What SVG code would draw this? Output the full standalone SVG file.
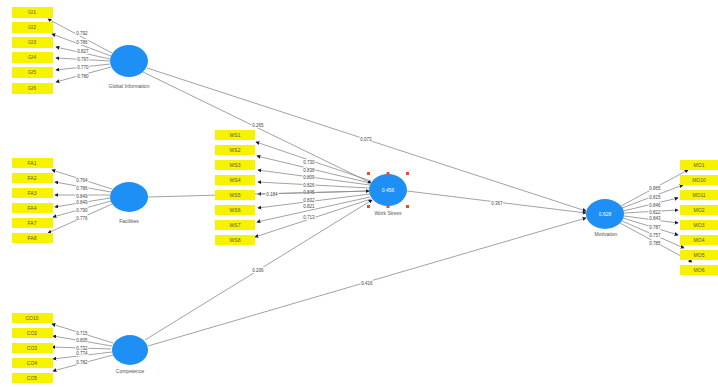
<svg xmlns="http://www.w3.org/2000/svg" width="718" height="387" viewBox="0 0 718 387">
<style>
.bg{fill:#ffffff}
.ind rect{fill:#f7f200}
.ind text{font-family:"Liberation Sans",Arial,sans-serif;font-size:5px;fill:#555;text-anchor:middle}
.lat ellipse{fill:#1e8ff5}
.lat .in{font-family:"Liberation Sans",Arial,sans-serif;font-size:5px;fill:#ffffff;text-anchor:middle}
.lat .nm{font-family:"Liberation Sans",Arial,sans-serif;font-size:5px;fill:#555;text-anchor:middle}
.edges line{stroke:#8a8a8a;stroke-width:0.8;marker-end:url(#ah)}
.edges text{font-family:"Liberation Sans",Arial,sans-serif;font-size:4.5px;fill:#444;text-anchor:middle;stroke:#fff;stroke-width:2px;paint-order:stroke}
.h{fill:#e0502a}
</style>
<defs>
<marker id="ah" viewBox="0 0 6 6" refX="5" refY="3" markerWidth="4" markerHeight="4" markerUnits="userSpaceOnUse" orient="auto">
<path d="M0,0 L6,3 L0,6 z" fill="#1a1a3a"/>
</marker>
</defs>
<rect class="bg" width="718" height="387"/>

<g class="edges" id="connectors">
<!-- top latent indicators -->
<line x1="112" y1="53" x2="48" y2="19"/>
<line x1="111" y1="56" x2="52" y2="34"/>
<line x1="110" y1="59" x2="56" y2="47"/>
<line x1="110" y1="61" x2="56" y2="58"/>
<line x1="110" y1="64" x2="56" y2="70"/>
<line x1="111" y1="67" x2="56" y2="82"/>
<text x="82" y="35">0.792</text>
<text x="82" y="44">0.786</text>
<text x="83" y="53">0.827</text>
<text x="83" y="61">0.797</text>
<text x="83" y="69">0.770</text>
<text x="83" y="78">0.780</text>
<!-- middle latent indicators -->
<line x1="112" y1="189" x2="52" y2="170"/>
<line x1="111" y1="192" x2="55" y2="182"/>
<line x1="110" y1="195" x2="55" y2="195"/>
<line x1="110" y1="198" x2="55" y2="207"/>
<line x1="111" y1="201" x2="53" y2="217"/>
<line x1="112" y1="204" x2="48" y2="233"/>
<text x="82" y="182">0.764</text>
<text x="82" y="190">0.786</text>
<text x="82" y="198">0.849</text>
<text x="82" y="204">0.849</text>
<text x="82" y="212">0.790</text>
<text x="82" y="220">0.776</text>
<!-- bottom latent indicators -->
<line x1="113" y1="343" x2="52" y2="324"/>
<line x1="112" y1="346" x2="53" y2="336"/>
<line x1="111" y1="349" x2="52" y2="347"/>
<line x1="112" y1="352" x2="53" y2="359"/>
<line x1="113" y1="355" x2="53" y2="371"/>
<text x="82" y="335">0.715</text>
<text x="82" y="342">0.805</text>
<text x="82" y="350">0.732</text>
<text x="82" y="355">0.774</text>
<text x="82" y="364">0.782</text>
<!-- center latent indicators -->
<line x1="371" y1="181" x2="256" y2="142"/>
<line x1="370" y1="183" x2="257" y2="156"/>
<line x1="370" y1="185" x2="258" y2="170"/>
<line x1="369" y1="188" x2="258" y2="182"/>
<line x1="369" y1="191" x2="258" y2="194"/>
<line x1="370" y1="194" x2="258" y2="208"/>
<line x1="370" y1="197" x2="257" y2="222"/>
<line x1="371" y1="199" x2="255" y2="237"/>
<text x="309" y="164">0.730</text>
<text x="309" y="172">0.838</text>
<text x="309" y="179">0.809</text>
<text x="309" y="187">0.826</text>
<text x="309" y="194">0.845</text>
<text x="309" y="202">0.832</text>
<text x="309" y="208">0.821</text>
<text x="309" y="219">0.713</text>
<!-- right latent indicators -->
<line x1="621" y1="206" x2="688" y2="170"/>
<line x1="622" y1="208" x2="683" y2="185"/>
<line x1="623" y1="211" x2="678" y2="198"/>
<line x1="624" y1="213" x2="678" y2="210"/>
<line x1="624" y1="216" x2="678" y2="223"/>
<line x1="623" y1="218" x2="678" y2="235"/>
<line x1="622" y1="221" x2="684" y2="248"/>
<line x1="620" y1="223" x2="692" y2="262"/>
<text x="655" y="190">0.865</text>
<text x="655" y="199">0.815</text>
<text x="655" y="207">0.846</text>
<text x="655" y="214">0.822</text>
<text x="655" y="220">0.843</text>
<text x="655" y="229">0.787</text>
<text x="655" y="237">0.757</text>
<text x="655" y="245">0.785</text>
<!-- structural paths -->
<line x1="147" y1="68" x2="586" y2="211"/>
<line x1="143" y1="72" x2="371" y2="183"/>
<line x1="148" y1="197" x2="369" y2="191"/>
<line x1="145" y1="340" x2="372" y2="200"/>
<line x1="148" y1="346" x2="586" y2="218"/>
<line x1="407" y1="191" x2="586" y2="213"/>
<text x="366" y="141">0.073</text>
<text x="258" y="127">0.265</text>
<text x="272" y="196">0.184</text>
<text x="258" y="272">0.206</text>
<text x="367" y="285">0.416</text>
<text x="497" y="205">0.367</text>
</g>

<g class="ind" id="gi-indicators">
<rect x="12" y="7" width="41" height="11"/><text x="32" y="14">GI1</text>
<rect x="12" y="22" width="41" height="11"/><text x="32" y="29">GI2</text>
<rect x="12" y="37" width="41" height="11"/><text x="32" y="44">GI3</text>
<rect x="12" y="52" width="41" height="11"/><text x="32" y="59">GI4</text>
<rect x="12" y="67" width="41" height="11"/><text x="32" y="74">GI5</text>
<rect x="12" y="83" width="41" height="11"/><text x="32" y="90">GI6</text>
</g>
<g class="ind" id="fa-indicators">
<rect x="12" y="158" width="41" height="10"/><text x="32" y="165">FA1</text>
<rect x="12" y="173" width="41" height="10"/><text x="32" y="180">FA2</text>
<rect x="12" y="188" width="41" height="10"/><text x="32" y="195">FA3</text>
<rect x="12" y="203" width="41" height="10"/><text x="32" y="210">FA4</text>
<rect x="12" y="218" width="41" height="10"/><text x="32" y="225">FA7</text>
<rect x="12" y="233" width="41" height="10"/><text x="32" y="240">FA8</text>
</g>
<g class="ind" id="co-indicators">
<rect x="12" y="313" width="41" height="10"/><text x="32" y="320">CO10</text>
<rect x="12" y="328" width="41" height="10"/><text x="32" y="335">CO2</text>
<rect x="12" y="343" width="41" height="10"/><text x="32" y="350">CO3</text>
<rect x="12" y="358" width="41" height="10"/><text x="32" y="365">CO4</text>
<rect x="12" y="373" width="41" height="10"/><text x="32" y="380">CO5</text>
</g>
<g class="ind" id="ws-indicators">
<rect x="215" y="130" width="40" height="10"/><text x="235" y="137">WS1</text>
<rect x="215" y="145" width="40" height="10"/><text x="235" y="152">WS2</text>
<rect x="215" y="160" width="40" height="10"/><text x="235" y="167">WS3</text>
<rect x="215" y="175" width="40" height="10"/><text x="235" y="182">WS4</text>
<rect x="215" y="190" width="40" height="10"/><text x="235" y="197">WS5</text>
<rect x="215" y="205" width="40" height="10"/><text x="235" y="212">WS6</text>
<rect x="215" y="220" width="40" height="10"/><text x="235" y="227">WS7</text>
<rect x="215" y="235" width="40" height="10"/><text x="235" y="242">WS8</text>
</g>
<g class="ind" id="mo-indicators">
<rect x="680" y="160" width="38" height="10"/><text x="699" y="167">MO1</text>
<rect x="680" y="175" width="38" height="10"/><text x="699" y="182">MO10</text>
<rect x="680" y="190" width="38" height="10"/><text x="699" y="197">MO11</text>
<rect x="680" y="205" width="38" height="10"/><text x="699" y="212">MO2</text>
<rect x="680" y="220" width="38" height="10"/><text x="699" y="227">MO3</text>
<rect x="680" y="235" width="38" height="10"/><text x="699" y="242">MO4</text>
<rect x="680" y="250" width="38" height="10"/><text x="699" y="257">MO5</text>
<rect x="680" y="265" width="38" height="10"/><text x="699" y="272">MO6</text>
</g>

<g class="lat" id="global-information">
<ellipse cx="129" cy="61" rx="19" ry="16"/>
<text class="nm" x="129" y="88">Global Information</text>
</g>
<g class="lat" id="facilities">
<ellipse cx="129" cy="197" rx="19" ry="15"/>
<text class="nm" x="129" y="223">Facilities</text>
</g>
<g class="lat" id="competence">
<ellipse cx="130" cy="350" rx="18" ry="15"/>
<text class="nm" x="130" y="373">Competence</text>
</g>
<g class="lat" id="work-stress">
<ellipse cx="388" cy="190" rx="19" ry="16"/>
<text class="in" x="388" y="192">0.456</text>
<text class="nm" x="388" y="215">Work Stress</text>
<rect class="h" x="367" y="172" width="3" height="3"/>
<rect class="h" x="406" y="172" width="3" height="3"/>
<rect class="h" x="367" y="205" width="3" height="3"/>
<rect class="h" x="406" y="205" width="3" height="3"/>
<rect class="h" x="386.5" y="172" width="3" height="3"/>
<rect class="h" x="386.5" y="205" width="3" height="3"/>
</g>
<g class="lat" id="motivation">
<ellipse cx="605" cy="214" rx="19" ry="15"/>
<text class="in" x="605" y="216">0.628</text>
<text class="nm" x="606" y="236">Motivation</text>
</g>
</svg>
